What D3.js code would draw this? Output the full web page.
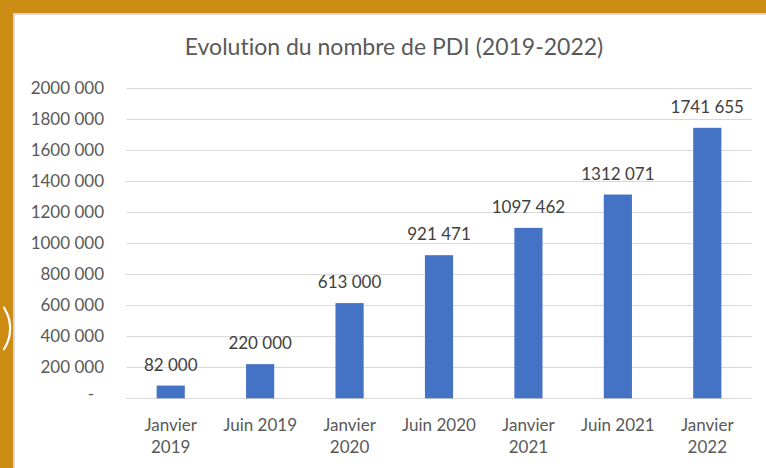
<!DOCTYPE html>
<html lang="fr">
<head>
<meta charset="utf-8" />
<title>Evolution du nombre de PDI</title>
<style>
  body { margin: 0; padding: 0; background: #fff; font-family: Lato, "Open Sans", sans-serif; }
  #chart { width: 766px; height: 468px; }
  svg text { font-variant-ligatures: none; }
  .grid line { stroke: #d9d9d9; stroke-width: 1px; }
  .bar { fill: #4472c4; }
  .lbl { fill: #595959; font-size: 17px; }
</style>
</head>
<body>
<div id="chart"></div>
<script src="https://d3js.org/d3.v7.min.js"></script>
<script>
// data
const periods = [['Janvier', '2019'], ['Juin 2019'], ['Janvier', '2020'], ['Juin 2020'],
                 ['Janvier', '2021'], ['Juin 2021'], ['Janvier', '2022']];
const pdi = [82000, 220000, 613000, 921471, 1097462, 1312071, 1741655];
const yTicks = [0, 200000, 400000, 600000, 800000, 1000000, 1200000, 1400000, 1600000, 1800000, 2000000];

const W = 766, H = 468;
const svg = d3.select('#chart').append('svg')
    .attr('width', W)
    .attr('height', H);

// golden frame around the slide
svg.append('rect').attr('width', W).attr('height', H).attr('fill', '#cc8c14');
svg.append('rect').attr('x', 13).attr('y', 13).attr('width', W - 13).attr('height', H - 13).attr('fill', '#d9d9d9');
svg.append('rect').attr('x', 15).attr('y', 15).attr('width', W - 15).attr('height', H - 15).attr('fill', '#fff');
svg.append('text')
    .attr('x', 1).attr('y', 344)
    .attr('fill', '#fff')
    .style('font-size', '50px')
    .style('font-weight', 300)
    .text(')');

// french style: "1741 655", "2000 000"
function frSpace(v) {
  const s = String(Math.round(v));
  if (s.length <= 3) return s;
  return s.slice(0, s.length - 3) + ' ' + s.slice(-3);
}

const x = d3.scaleBand()
    .domain(d3.range(periods.length))
    .range([126, 752])
    .paddingInner(0.685)
    .paddingOuter(0.3425);

const y = d3.scaleLinear()
    .domain([0, 2000000])
    .range([398.3, 87.7]);

// title
svg.append('text')
    .attr('x', 394).attr('y', 55)
    .attr('text-anchor', 'middle')
    .attr('fill', '#595959')
    .style('font-size', '23px')
    .text('Evolution du nombre de PDI (2019-2022)');

// grid
const grid = svg.append('g').attr('class', 'grid');
grid.selectAll('line')
    .data(yTicks)
    .enter().append('line')
    .attr('x1', 126).attr('x2', 752)
    .attr('y1', d => Math.round(y(d)) + 0.5)
    .attr('y2', d => Math.round(y(d)) + 0.5);

// y labels
svg.append('g').selectAll('text')
    .data(yTicks)
    .enter().append('text')
    .attr('class', 'lbl')
    .attr('x', d => d === 0 ? 94 : 104)
    .attr('y', d => y(d))
    .attr('dy', d => d === 0 ? '0.1em' : '0.35em')
    .attr('text-anchor', 'end')
    .text(d => d === 0 ? '-' : frSpace(d));

// bars
svg.append('g').selectAll('rect')
    .data(pdi)
    .enter().append('rect')
    .attr('class', 'bar')
    .attr('x', (d, i) => x(i))
    .attr('width', x.bandwidth())
    .attr('y', d => y(d))
    .attr('height', d => y(0) - y(d));

// value labels
svg.append('g').selectAll('text')
    .data(pdi)
    .enter().append('text')
    .attr('fill', '#404040')
    .style('font-size', '17px')
    .attr('text-anchor', 'middle')
    .attr('x', (d, i) => x(i) + x.bandwidth() / 2)
    .attr('y', d => y(d) - 15)
    .text(d => frSpace(d));

// category labels
const cat = svg.append('g').selectAll('text')
    .data(periods)
    .enter().append('text')
    .attr('class', 'lbl')
    .attr('text-anchor', 'middle')
    .attr('x', (d, i) => x(i) + x.bandwidth() / 2)
    .attr('y', 431);
cat.selectAll('tspan')
    .data(d => d)
    .enter().append('tspan')
    .attr('x', function () { return d3.select(this.parentNode).attr('x'); })
    .attr('dy', (d, i) => i === 0 ? 0 : 22)
    .text(d => d);
</script>
</body>
</html>
